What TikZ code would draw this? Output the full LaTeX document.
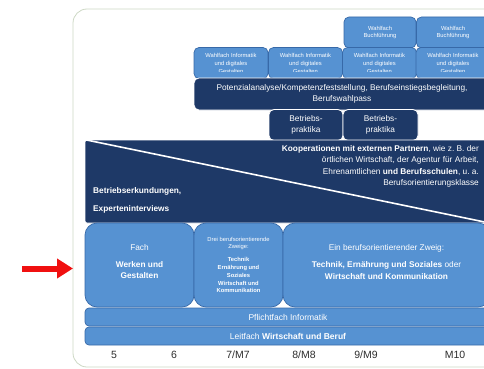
\documentclass[tikz,border=0pt]{standalone}
\usepackage{fontspec}
\setmainfont{Liberation Sans}
\usetikzlibrary{arrows.meta}
\definecolor{BoBlue}{RGB}{86,146,210}
\definecolor{BoBlueEdge}{RGB}{55,105,168}
\definecolor{BoNavy}{RGB}{30,57,103}
\definecolor{BoFrame}{RGB}{205,216,196}
\definecolor{BoText}{RGB}{45,45,45}
\definecolor{BoRed}{RGB}{240,16,16}
\tikzset{
  bo/light/.style={
    draw=BoBlueEdge,
    line width=0.7pt,
    rounded corners=5pt,
    fill=BoBlue,
    align=center,
    text=white,
    inner sep=0pt,
    font=\fontsize{5.8}{7.6}\selectfont
  },
  bo/dark/.style={
    draw=white,
    line width=0.8pt,
    rounded corners=5pt,
    fill=BoNavy,
    align=center,
    text=white,
    inner sep=0pt,
    font=\fontsize{8.3}{11}\selectfont
  },
  bo/bar/.style={bo/light, rounded corners=4pt, minimum width=406pt, minimum height=18pt, font=\fontsize{8.5}{10}\selectfont},
  bo/text/.style={inner sep=0pt, align=center, text=white},
  bo/year/.style={inner sep=0pt, text=BoText, font=\fontsize{10.5}{12}\selectfont},
  bo/arrow/.style={-{Triangle[length=16pt,width=19pt]}, line width=6pt, draw=BoRed}
}

\begin{document}
\begin{tikzpicture}[x=1pt,y=-1pt]
  \useasboundingbox (0,0) rectangle (484,369);
  \clip (0,0) rectangle (484,369);
  % frame
  \draw[BoFrame, line width=0.8pt, rounded corners=14pt] (73,9) rectangle (540,367);

  % wahlfaecher
  \node[bo/light, minimum width=72pt, minimum height=31pt] (buch1) at (380,32.5) {Wahlfach\\Buchführung};
  \node[bo/light, minimum width=73pt, minimum height=31pt] (buch2) at (453,32.5) {Wahlfach\\Buchführung};
  \foreach \i/\cx in {1/231,2/305.5,3/379.5,4/453} {
    \node[bo/light, minimum width=74pt, minimum height=31pt] (info\i) at (\cx,63) {};
    \begin{scope}
      \clip (\cx-37,48) rectangle (\cx+37,71.8);
      \node[bo/text, font=\fontsize{5.8}{7.6}\selectfont] (infotext\i) at (\cx,63.5) {Wahlfach Informatik\\und digitales\\Gestalten};
    \end{scope}
  }
  \node[bo/dark, minimum width=296pt, minimum height=32pt] (potenzial) at (342,94) {Potenzialanalyse/Kompetenzfeststellung, Berufseinstiegsbegleitung,\\Berufswahlpass};

  % praktika und partner
  \node[bo/dark, minimum width=74pt, minimum height=31pt] (praktikum1) at (306,125) {Betriebs-\\praktika};
  \node[bo/dark, minimum width=75pt, minimum height=31pt] (praktikum2) at (380.5,125) {Betriebs-\\praktika};
  \node[bo/dark, rounded corners=2pt, minimum width=406pt, minimum height=83pt] (partner) at (288,181.5) {};
  \draw[white, line width=1.6pt] (partner.north west) -- (partner.south east);
  \node[bo/text, anchor=north east, align=right, font=\fontsize{8.3}{11.5}\selectfont] (kooptext) at (479,145) {\textbf{Kooperationen mit externen Partnern}, wie z.~B. der\\örtlichen Wirtschaft, der Agentur für Arbeit,\\Ehrenamtlichen \textbf{und Berufsschulen}, u.~a.\\Berufsorientierungsklasse};
  \node[bo/text, anchor=west, align=left, font=\bfseries\fontsize{8.3}{18}\selectfont] (erkundung) at (93,200) {Betriebserkundungen,\\Experteninterviews};

  % faecher
  \node[bo/light, rounded corners=12pt, minimum width=109pt, minimum height=84pt] (fach) at (139.5,265) {};
  \node[bo/text, font=\fontsize{8.3}{11}\selectfont] (fachtext) at (139.5,262) {Fach\\[6pt]\textbf{Werken und}\\\textbf{Gestalten}};
  \node[bo/light, rounded corners=12pt, minimum width=89pt, minimum height=84pt, font=\fontsize{5.8}{7.8}\selectfont] (drei) at (238.5,265) {Drei berufsorientierende\\Zweige:\\[5pt]\textbf{Technik}\\\textbf{Ernährung und}\\\textbf{Soziales}\\\textbf{Wirtschaft und}\\\textbf{Kommunikation}};
  \node[bo/light, rounded corners=12pt, minimum width=207pt, minimum height=84pt] (ein) at (386.5,265) {};
  \node[bo/text, font=\fontsize{8.3}{12}\selectfont] (eintext) at (386.5,262.5) {Ein berufsorientierender Zweig:\\[5pt]\textbf{Technik, Ernährung und Soziales} oder\\\textbf{Wirtschaft und Kommunikation}};
  \node[bo/bar] (pflicht) at (288,317) {Pflichtfach Informatik};
  \node[bo/bar] (leitfach) at (288,336) {Leitfach \textbf{Wirtschaft und Beruf}};

  % jahrgaenge
  \foreach \yx/\ytxt in {114/5, 174/6, 238/{7/M7}, 304/{8/M8}, 366/{9/M9}, 455/M10}
    \node[bo/year] (year\yx) at (\yx,355) {\ytxt};

  \coordinate (arrowtail) at (22,268.5);
  \coordinate (arrowtip) at (73,268.5);
  \draw[bo/arrow] (arrowtail) -- (arrowtip);
\end{tikzpicture}
\end{document}
